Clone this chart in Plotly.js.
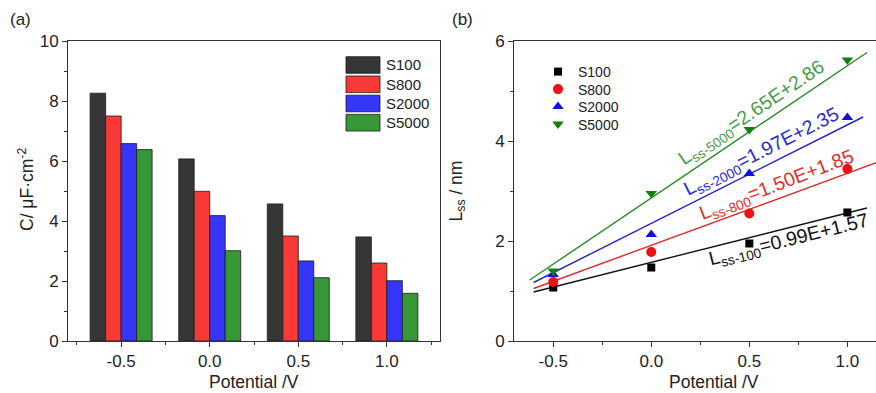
<!DOCTYPE html>
<html>
<head>
<meta charset="utf-8">
<script src="https://cdn.plot.ly/plotly-3.0.1.min.js"></script>
<style>html,body{margin:0;padding:0;background:#fff;}#chart{width:876px;height:393px;}</style>
</head>
<body>
<div id="chart"></div>
<script>
// ---------- data ----------
const seriesNames = ['S100', 'S800', 'S2000', 'S5000'];
const potentials = [-0.5, 0.0, 0.5, 1.0];
const tickText = ['-0.5', '0.0', '0.5', '1.0'];

// (a) capacitance, µF·cm^-2
const capS100 = [8.26, 6.07, 4.57, 3.47];
const capS800 = [7.50, 4.99, 3.50, 2.60];
const capS2000 = [6.58, 4.18, 2.67, 2.01];
const capS5000 = [6.38, 3.01, 2.11, 1.59];

// (b) Lss, nm
const lssS100 = [1.07, 1.47, 1.95, 2.57];
const lssS800 = [1.18, 1.78, 2.55, 3.44];
const lssS2000 = [1.33, 2.13, 3.35, 4.47];
const lssS5000 = [1.40, 2.95, 4.23, 5.62];

// fitted lines (end points)
const fitXS100 = [-0.60, 1.10], fitYS100 = [0.98, 2.66];
const fitXS800 = [-0.60, 1.15], fitYS800 = [1.05, 3.57];
const fitXS2000 = [-0.60, 1.08], fitYS2000 = [1.17, 4.48];
const fitXS5000 = [-0.62, 1.10], fitYS5000 = [1.22, 5.77];

const fitLabels = [
  'L<sub>ss-100</sub>=0.99E+1.57',
  'L<sub>ss-800</sub>=1.50E+1.85',
  'L<sub>ss-2000</sub>=1.97E+2.35',
  'L<sub>ss-5000</sub>=2.65E+2.86'
];

const xTitle = 'Potential /V';
const yTitleA = 'C/ μF·cm<sup>-2</sup>';
const yTitleB = 'L<sub>ss</sub> / nm';

// ---------- styling ----------
const FONT = 'Liberation Sans, Arial, sans-serif';
const barColors = ['#363636', '#f93838', '#3636f9', '#389838'];
const ptColors = ['#000000', '#ee1111', '#1111dd', '#118011'];
const lineColors = ['#111111', '#dd2a2a', '#2222cc', '#2a8a2a'];
const textColors = ['#111111', '#dd3030', '#2a2ad0', '#4a9a4a'];
const symbols = ['square', 'circle', 'triangle-up', 'triangle-down'];
const symSizes = [8, 10, 10, 10];
const legendIds = ['legend', 'legend2', 'legend3', 'legend4'];

const caps = [capS100, capS800, capS2000, capS5000];
const lss = [lssS100, lssS800, lssS2000, lssS5000];
const fitX = [fitXS100, fitXS800, fitXS2000, fitXS5000];
const fitY = [fitYS100, fitYS800, fitYS2000, fitYS5000];

const W = 876, H = 393, MT = 41, MB = 52, PH = H - MT - MB;
const px = v => v / W;
const py = v => (H - MB - v) / PH;

const traces = [];
seriesNames.forEach((n, i) => {
  traces.push({
    type: 'bar', x: potentials, y: caps[i], name: n,
    xaxis: 'x', yaxis: 'y', showlegend: false,
    marker: {color: barColors[i], line: {color: '#1a1a1a', width: 0.8}}
  });
});
seriesNames.forEach((n, i) => {
  traces.push({
    type: 'scatter', mode: 'lines', x: fitX[i], y: fitY[i],
    xaxis: 'x2', yaxis: 'y2', showlegend: false, hoverinfo: 'skip',
    line: {color: lineColors[i], width: 1.4}
  });
});
seriesNames.forEach((n, i) => {
  traces.push({
    type: 'scatter', mode: 'markers', x: potentials, y: lss[i], name: n,
    xaxis: 'x2', yaxis: 'y2', legend: legendIds[i], showlegend: true,
    marker: {symbol: symbols[i], size: symSizes[i], color: ptColors[i]}
  });
});

const axisCommon = {
  showline: true, linecolor: '#333', linewidth: 1,
  ticks: 'outside', ticklen: 5, tickwidth: 1, tickcolor: '#333',
  showgrid: false, zeroline: false,
  tickfont: {family: FONT, size: 17, color: '#222'}
};
const titleFont = {family: FONT, size: 17.5, color: '#222'};

// custom legend for (a)
const shapes = [];
const annotations = [];
const legRowY = [65, 84.3, 103.5, 122.7];
seriesNames.forEach((n, i) => {
  shapes.push({
    type: 'rect', xref: 'paper', yref: 'paper',
    x0: px(346), x1: px(380), y0: py(legRowY[i] + 8.3), y1: py(legRowY[i] - 8.3),
    fillcolor: barColors[i], line: {color: '#1a1a1a', width: 0.8}
  });
  annotations.push({
    xref: 'paper', yref: 'paper', x: px(384), y: py(legRowY[i]),
    xanchor: 'left', yanchor: 'middle', showarrow: false, text: n,
    font: {family: FONT, size: 15, color: '#222'}
  });
});

// panel labels
annotations.push({xref: 'paper', yref: 'paper', x: px(8), y: py(19), xanchor: 'left', yanchor: 'middle',
  showarrow: false, text: '(a)', font: {family: FONT, size: 17, color: '#222'}});
annotations.push({xref: 'paper', yref: 'paper', x: px(450), y: py(19), xanchor: 'left', yanchor: 'middle',
  showarrow: false, text: '(b)', font: {family: FONT, size: 17, color: '#222'}});

// axis titles placed as annotations
annotations.push({xref: 'paper', yref: 'paper', x: px(254), y: py(382), xanchor: 'center', yanchor: 'middle',
  showarrow: false, text: xTitle, font: titleFont});
annotations.push({xref: 'paper', yref: 'paper', x: px(714), y: py(382), xanchor: 'center', yanchor: 'middle',
  showarrow: false, text: xTitle, font: titleFont});
annotations.push({xref: 'paper', yref: 'paper', x: px(26), y: py(190), xanchor: 'center', yanchor: 'middle',
  showarrow: false, text: yTitleA, textangle: -90, font: titleFont});

// equation labels (positions in data units of panel b)
const eqX = [0.70, 0.64, 0.56, 0.51];
const eqY = [2.02, 3.11, 3.78, 4.56];
const eqAngle = [-14, -21, -27, -34];
seriesNames.forEach((n, i) => {
  annotations.push({
    xref: 'x2', yref: 'y2', x: eqX[i], y: eqY[i], showarrow: false,
    text: fitLabels[i], textangle: eqAngle[i],
    font: {family: FONT, size: 19.5, color: textColors[i]}
  });
});

const layout = {
  width: W, height: H,
  margin: {l: 0, r: 0, t: MT, b: MB, pad: 0},
  paper_bgcolor: '#fff', plot_bgcolor: '#fff',
  font: {family: FONT, color: '#222'},
  barmode: 'group', bargap: 0.3, bargroupgap: 0,
  xaxis: Object.assign({}, axisCommon, {
    domain: [px(68), px(440)], range: [-0.8, 1.3], mirror: true,
    tickmode: 'array', tickvals: potentials, ticktext: tickText,
    minor: {tickvals: [-0.75, -0.25, 0.25, 0.75, 1.25], ticks: 'outside', ticklen: 3, tickcolor: '#333'},
    anchor: 'y'
  }),
  yaxis: Object.assign({}, axisCommon, {
    domain: [0, 1], range: [0, 10], dtick: 2, mirror: true,
    minor: {dtick: 1, ticks: 'outside', ticklen: 3, tickcolor: '#333'},
    anchor: 'x'
  }),
  xaxis2: Object.assign({}, axisCommon, {
    domain: [px(514), 1], range: [-0.7, 1.146], mirror: true,
    tickmode: 'array', tickvals: potentials, ticktext: tickText,
    minor: {tickvals: [-0.25, 0.25, 0.75], ticks: 'outside', ticklen: 3, tickcolor: '#333'},
    anchor: 'y2'
  }),
  yaxis2: Object.assign({}, axisCommon, {
    domain: [0, 1], range: [0, 6], dtick: 2, mirror: false,
    minor: {dtick: 1, ticks: 'outside', ticklen: 3, tickcolor: '#333'},
    title: {text: yTitleB, font: titleFont, standoff: 28},
    anchor: 'x2'
  }),
  showlegend: true,
  shapes: shapes,
  annotations: annotations
};

const rightLegRowY = [71, 88.5, 106, 123.5];
legendIds.forEach((id, i) => {
  layout[id] = {
    x: px(538), y: py(rightLegRowY[i] - 15), xanchor: 'left', yanchor: 'top',
    bgcolor: 'rgba(0,0,0,0)', borderwidth: 0, tracegroupgap: 0,
    font: {family: FONT, size: 14, color: '#222'}
  };
});

Plotly.newPlot('chart', traces, layout, {displayModeBar: false, staticPlot: true});
</script>
</body>
</html>
